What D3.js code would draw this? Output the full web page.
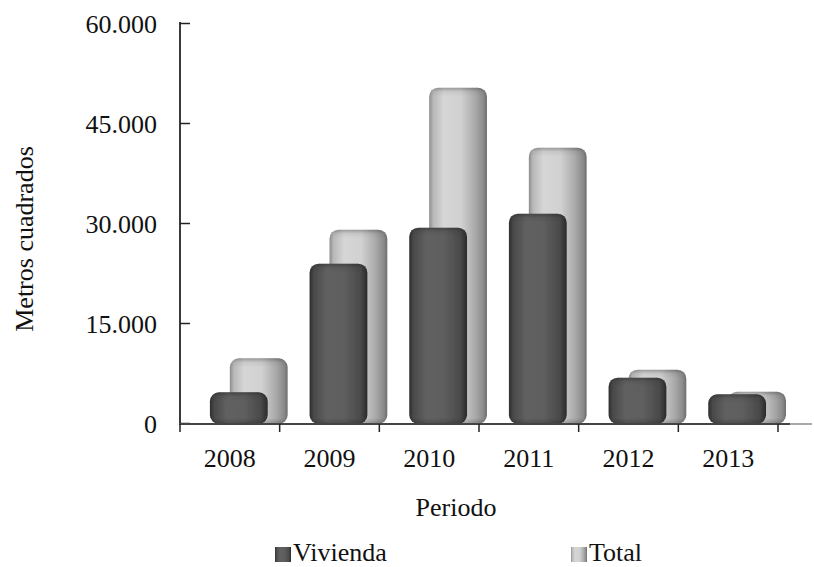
<!DOCTYPE html>
<html>
<head>
<meta charset="utf-8">
<script src="https://cdn.jsdelivr.net/npm/d3@7"></script>
<style>
  html, body { margin: 0; padding: 0; background: #fff; }
  svg { display: block; }
  svg text { font-family: "Liberation Serif", "Times New Roman", Times, "DejaVu Serif", serif !important; fill: #111; }
</style>
</head>
<body>
<div id="chart"></div>
<script>
const years = ["2008", "2009", "2010", "2011", "2012", "2013"];
const vivienda = [4600, 23900, 29300, 31400, 6800, 4300];
const total = [9700, 29000, 50300, 41300, 8000, 4700];
const yTicks = [0, 15000, 30000, 45000, 60000];
const seriesNames = ["Vivienda", "Total"];
const yTitle = "Metros cuadrados";
const xTitle = "Periodo";

const W = 814, H = 567;
const FONT = '"Liberation Serif", "Times New Roman", Times, "DejaVu Serif", serif';
const svg = d3.select("#chart").append("svg").attr("width", W).attr("height", H)
  .attr("font-family", FONT);
const defs = svg.append("defs");

function hGrad(id, stops) {
  const g = defs.append("linearGradient").attr("id", id)
    .attr("x1", 0).attr("y1", 0).attr("x2", 1).attr("y2", 0);
  stops.forEach(s => g.append("stop").attr("offset", s[0]).attr("stop-color", s[1]));
}
hGrad("gLight", [[0, "#8c8c8c"], [0.07, "#b8b8b8"], [0.25, "#d6d6d6"], [0.55, "#d1d1d1"], [0.8, "#a9a9a9"], [0.94, "#8a8a8a"], [1, "#6c6c6c"]]);
hGrad("gDark", [[0, "#2e2e2e"], [0.08, "#4a4a4a"], [0.3, "#616161"], [0.6, "#5e5e5e"], [0.88, "#4a4a4a"], [1, "#2a2a2a"]]);
const soft = defs.append("filter").attr("id", "soft").attr("x", "-5%").attr("y", "-5%").attr("width", "110%").attr("height", "110%");
soft.append("feGaussianBlur").attr("stdDeviation", 0.6);

const fmt = d3.formatLocale({ decimal: ",", thousands: ".", grouping: [3], currency: ["", ""] }).format(",");

const x = d3.scaleBand().domain(years).range([180, 778]).paddingInner(0).paddingOuter(0);
const y = d3.scaleLinear().domain([0, 60000]).range([423, 23]);
const baseY = 424;
const bw = x.bandwidth();

// bars: Total behind, Vivienda in front
const series = [
  { name: seriesNames[1], values: total, off: 0.5, fill: "url(#gLight)" },
  { name: seriesNames[0], values: vivienda, off: 0.3, fill: "url(#gDark)" }
];
const barW = bw * 0.58;
let gid = 0;
series.forEach(s => {
  const g = svg.append("g").attr("filter", "url(#soft)");
  years.forEach((yr, i) => {
    const x0 = x(yr) + bw * s.off;
    const yTop = y(s.values[i]);
    const h = baseY - yTop;
    g.append("rect").attr("x", x0).attr("y", yTop).attr("width", barW).attr("height", h)
      .attr("rx", 9).attr("ry", 9).attr("fill", s.fill);
    const id = "bv" + (gid++);
    const vg = defs.append("linearGradient").attr("id", id).attr("x1", 0).attr("y1", 0).attr("x2", 0).attr("y2", 1);
    const stops = [[0, "rgba(0,0,0,0.28)"], [Math.min(0.45, 4 / h), "rgba(0,0,0,0.06)"], [Math.min(0.48, 9 / h), "rgba(0,0,0,0)"],
                   [Math.max(0.52, 1 - 6 / h), "rgba(0,0,0,0)"], [1, "rgba(0,0,0,0.22)"]];
    stops.forEach(st => vg.append("stop").attr("offset", st[0]).attr("stop-color", st[1]));
    g.append("rect").attr("x", x0).attr("y", yTop).attr("width", barW).attr("height", h)
      .attr("rx", 9).attr("ry", 9).attr("fill", "url(#" + id + ")");
  });
});

// Y axis
const yAxis = d3.axisLeft(y).tickValues(yTicks).tickFormat(fmt).tickSizeInner(-10).tickSizeOuter(0).tickPadding(23);
const gy = svg.append("g").attr("transform", "translate(180,0)").call(yAxis).attr("font-family", FONT);
gy.select(".domain").attr("stroke", "#3a3a3a").attr("stroke-width", 2).attr("d", "M0," + 22 + "V" + baseY);
gy.selectAll(".tick line").attr("stroke", "#222").attr("stroke-width", 1.5);
gy.selectAll(".tick text").attr("font-size", 26).attr("dy", null).attr("y", 9).attr("fill", "#111");

// X axis
svg.append("line").attr("x1", 179).attr("x2", 790).attr("y1", baseY).attr("y2", baseY)
  .attr("stroke", "#444").attr("stroke-width", 2);
svg.append("line").attr("x1", 790).attr("x2", 812).attr("y1", baseY).attr("y2", baseY)
  .attr("stroke", "#aaa").attr("stroke-width", 2);
const bounds = years.map(d => x(d)).concat([x.range()[1]]);
svg.append("g").selectAll("line").data(bounds).join("line")
  .attr("x1", d => d).attr("x2", d => d).attr("y1", baseY).attr("y2", baseY + 8)
  .attr("stroke", "#222").attr("stroke-width", 1.5);
const xAxis = d3.axisBottom(x).tickSize(0).tickPadding(0);
const gx = svg.append("g").attr("transform", "translate(0," + 467 + ")").call(xAxis).attr("font-family", FONT);
gx.select(".domain").remove();
gx.selectAll(".tick text").attr("font-size", 26).attr("dy", null).attr("y", 0).attr("fill", "#111");

// Titles
svg.append("text").attr("x", 456).attr("y", 516).attr("text-anchor", "middle").attr("font-size", 26).text(xTitle);
svg.append("text").attr("transform", "translate(33,239) rotate(-90)").attr("text-anchor", "middle").attr("font-size", 26).text(yTitle);

// Legend
const legend = [
  { name: seriesNames[0], x: 275, fill: "url(#gDark)" },
  { name: seriesNames[1], x: 571, fill: "url(#gLight)" }
];
legend.forEach(l => {
  svg.append("rect").attr("x", l.x).attr("y", 547).attr("width", 16).attr("height", 15).attr("fill", l.fill);
  svg.append("text").attr("x", l.x + 18).attr("y", 561).attr("font-size", 26).text(l.name);
});
</script>
</body>
</html>
